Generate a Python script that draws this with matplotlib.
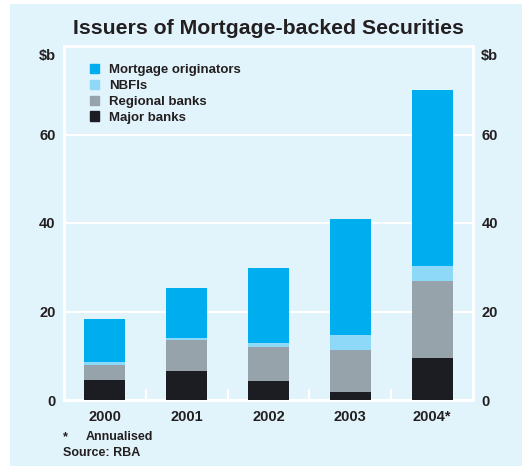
import numpy as np
import matplotlib.pyplot as plt
from matplotlib.patches import Rectangle, Patch

plt.rcParams['font.family'] = ['Liberation Sans', 'DejaVu Sans']
plt.rcParams['font.weight'] = 'bold'

years = ['2000', '2001', '2002', '2003', '2004*']
major = [4.5, 6.6, 4.3, 1.8, 9.5]
regional = [3.5, 6.9, 7.7, 9.6, 17.3]
nbfi = [0.5, 0.4, 0.95, 3.4, 3.4]
mortgage = [9.9, 11.3, 16.85, 26.1, 39.8]

bg = '#e1f3fb'
c_mort = '#00aeef'
c_nbfi = '#8ed8f8'
c_reg = '#96a3ab'
c_major = '#1c1d22'
txt = '#231f20'

fig = plt.figure(figsize=(5.22, 4.66), dpi=100)
fig.patch.set_facecolor('white')
fig.add_artist(Rectangle((10 / 522, 0), 1, 1 - 4 / 466, transform=fig.transFigure,
                         facecolor=bg, edgecolor='none', zorder=-5))

ax = fig.add_axes([64 / 522, 1 - 400 / 466, 409 / 522, 354 / 466])
ax.set_zorder(1)
ax.set_facecolor(bg)

x = np.arange(len(years))
w = 0.5
b1 = np.array(major)
b2 = b1 + np.array(regional)
b3 = b2 + np.array(nbfi)
ax.bar(x, major, w, color=c_major, zorder=3)
ax.bar(x, regional, w, bottom=b1, color=c_reg, zorder=3)
ax.bar(x, nbfi, w, bottom=b2, color=c_nbfi, zorder=3)
ax.bar(x, mortgage, w, bottom=b3, color=c_mort, zorder=3)

ax.set_xlim(-0.5, 4.5)
ax.set_ylim(0, 80)
ax.set_yticks([0, 20, 40, 60])
ax.grid(axis='y', color='white', linewidth=1.5, zorder=1)
ax.set_axisbelow(True)
for s in ax.spines.values():
    s.set_color('white')
    s.set_linewidth(2)

ax.set_xticks(x)
ax.set_xticklabels(years, fontsize=10.5, fontweight='bold', color=txt)
ax.set_xticks(x[:-1] + 0.5, minor=True)
ax.tick_params(axis='x', which='major', length=0, pad=7)
ax.tick_params(axis='x', which='minor', direction='in', length=8, width=1.5, color='white')
ax.tick_params(axis='y', length=0, labelsize=10.5, labelcolor=txt, pad=6,
               labelleft=True, labelright=True)
for lab in ax.get_yticklabels():
    lab.set_fontweight('bold')

fig.text(47 / 522, 1 - 56 / 466, '$b', ha='center', va='center', fontsize=10.5,
         fontweight='bold', color=txt)
fig.text(489 / 522, 1 - 56 / 466, '$b', ha='center', va='center', fontsize=10.5,
         fontweight='bold', color=txt)

fig.text(268 / 522, 1 - 28 / 466, 'Issuers of Mortgage-backed Securities', ha='center',
         va='center', fontsize=15.3, fontweight='bold', color=txt)

fig.text(63 / 522, 1 - 437 / 466, '*', ha='left', va='center', fontsize=9,
         fontweight='bold', color=txt)
fig.text(86 / 522, 1 - 437 / 466, 'Annualised', ha='left', va='center', fontsize=9,
         fontweight='bold', color=txt)
fig.text(63 / 522, 1 - 453 / 466, 'Source: RBA', ha='left', va='center', fontsize=9,
         fontweight='bold', color=txt)

handles = [Patch(color=c_mort, label='Mortgage originators'),
           Patch(color=c_nbfi, label='NBFIs'),
           Patch(color=c_reg, label='Regional banks'),
           Patch(color=c_major, label='Major banks')]
leg = ax.legend(handles=handles, loc='upper left', bbox_to_anchor=(0.05, 0.965),
                frameon=False, fontsize=9.5, handlelength=0.7, handleheight=0.7,
                handletextpad=0.75, labelspacing=0.28, borderaxespad=0)
for t in leg.get_texts():
    t.set_color(txt)
    t.set_fontweight('bold')

fig.savefig('out.png', dpi=100, facecolor=fig.get_facecolor())
